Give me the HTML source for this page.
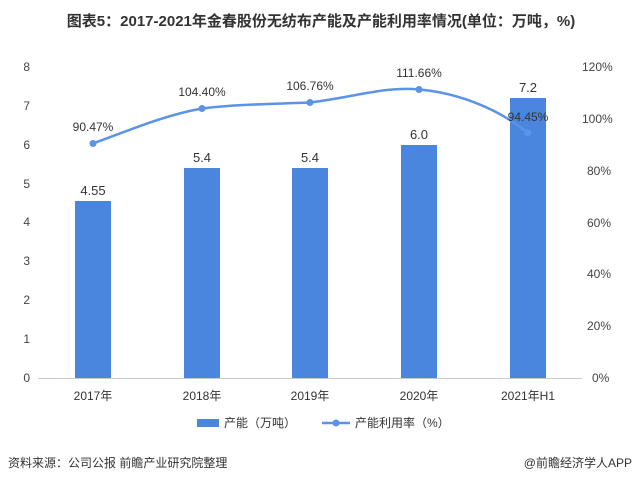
<!DOCTYPE html>
<html><head><meta charset="utf-8"><style>
body{margin:0;background:#fff;width:640px;height:483px;overflow:hidden;font-family:"Liberation Sans","Noto Sans CJK SC",sans-serif;}
</style></head><body>
<svg width="640" height="483" xmlns="http://www.w3.org/2000/svg" font-family="Liberation Sans, Noto Sans CJK SC, sans-serif">
<text x="321" y="26" text-anchor="middle" font-size="15" font-weight="bold" fill="#333">图表5：2017-2021年金春股份无纺布产能及产能利用率情况(单位：万吨，%)</text>
<g font-size="12" fill="#444" text-anchor="end">
<text x="30" y="382">0</text><text x="30" y="343">1</text><text x="30" y="304">2</text><text x="30" y="265">3</text><text x="30" y="226">4</text><text x="30" y="188">5</text><text x="30" y="149">6</text><text x="30" y="110">7</text><text x="30" y="71">8</text>
</g>
<g font-size="12" fill="#444" text-anchor="start">
<text x="592" y="382">0%</text><text x="587" y="330">20%</text><text x="587" y="278">40%</text><text x="587" y="227">60%</text><text x="587" y="175">80%</text><text x="582" y="123">100%</text><text x="582" y="71">120%</text>
</g>
<line x1="38" y1="378.5" x2="582" y2="378.5" stroke="#ccc"/>
<g fill="#4a86dd">
<rect x="75" y="201" width="36" height="177"/>
<rect x="184" y="168" width="36" height="210"/>
<rect x="292" y="168" width="36" height="210"/>
<rect x="401" y="145" width="36" height="233"/>
<rect x="510" y="98" width="36" height="280"/>
</g>
<g font-size="13" fill="#333" text-anchor="middle">
<text x="93" y="195">4.55</text><text x="202" y="162">5.4</text><text x="310" y="162">5.4</text><text x="419" y="139">6.0</text><text x="528" y="92">7.2</text>
</g>
<path d="M93,143.5 C130,130 165,115 202,108.5 C240,104 275,104 310,102.5 C350,98 385,86 419,89.5 C460,93 500,110 528,133" fill="none" stroke="#5b93e8" stroke-width="2.5"/>
<g fill="#5b93e8"><circle cx="93" cy="143.5" r="3.5"/><circle cx="202" cy="108.5" r="3.5"/><circle cx="310" cy="102.5" r="3.5"/><circle cx="419" cy="89.5" r="3.5"/><circle cx="528" cy="133" r="3.5"/></g>
<g font-size="12" fill="#333" text-anchor="middle">
<text x="93" y="131">90.47%</text><text x="202" y="96">104.40%</text><text x="310" y="90">106.76%</text><text x="419" y="77">111.66%</text><text x="528" y="121">94.45%</text>
</g>
<g font-size="12" fill="#333" text-anchor="middle">
<text x="93" y="400">2017年</text><text x="202" y="400">2018年</text><text x="310" y="400">2019年</text><text x="419" y="400">2020年</text><text x="528" y="400">2021年H1</text>
</g>
<rect x="197" y="419" width="22" height="8" fill="#4a86dd"/>
<text x="224" y="427" font-size="12" fill="#333">产能（万吨）</text>
<line x1="322" y1="423" x2="350" y2="423" stroke="#5b93e8" stroke-width="2.5"/>
<circle cx="336" cy="423" r="3.5" fill="#5b93e8"/>
<text x="355" y="427" font-size="12" fill="#333">产能利用率（%）</text>
<text x="8" y="467" font-size="12" fill="#333">资料来源：公司公报 前瞻产业研究院整理</text>
<text x="632" y="467" font-size="12" fill="#333" text-anchor="end">@前瞻经济学人APP</text>
</svg>
</body></html>
